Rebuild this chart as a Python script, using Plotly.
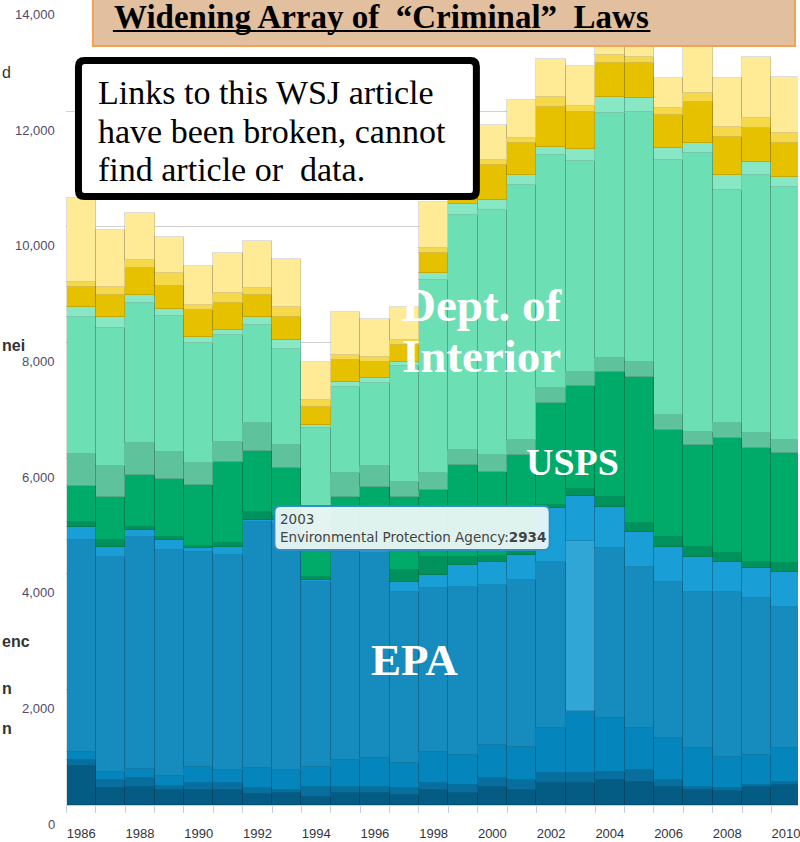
import plotly.graph_objects as go

years = list(range(1986, 2011))

# stacked series, bottom to top
blue_darkest = [674,294,311,259,259,259,190,207,138,207,207,173,259,207,311,259,380,380,432,398,311,259,242,311,346]
blue_dark = [104,138,156,69,121,121,104,52,173,104,104,121,121,138,156,173,173,173,138,207,121,52,52,35,52]
blue_medium = [138,138,156,173,277,225,346,346,346,467,501,432,536,519,571,571,778,1072,934,726,726,674,536,519,588]
epa = [3665,3717,4011,3908,3717,3717,4253,4253,3199,3596,3544,2957,2836,2905,2766,2887,2870,2934,2939,2784,2697,2697,2853,2715,2438]
blue_light = [225,173,121,173,69,138,35,69,35,69,86,173,225,380,398,432,934,778,709,605,605,605,519,519,605]
green_dark = [86,121,52,52,35,69,138,69,52,52,52,207,311,138,104,86,52,121,173,156,173,173,156,104,156]
usps = [622,743,899,1003,1055,1400,1055,830,726,830,1003,1262,1158,1591,1452,1643,1764,1781,2161,2524,1850,1764,1988,1971,1902]
green_medium = [553,536,553,467,380,346,484,398,346,415,363,259,294,259,294,259,259,242,242,259,259,225,259,259,225]
interior = [2369,2386,2421,2351,2075,1850,1694,1660,1504,1487,1435,2006,3337,4063,4236,4409,4029,3648,4236,4323,4409,4824,4029,4461,4374]
mint_light = [173,190,138,121,104,86,138,156,52,86,86,69,121,190,173,173,138,207,277,242,207,173,259,225,173]
gold = [346,380,467,398,467,467,380,398,311,380,277,294,346,415,605,553,692,640,588,605,571,709,657,588,588]
yellow_strip = [86,138,138,225,86,173,121,173,121,86,86,86,86,86,86,86,173,104,138,104,121,156,173,173,173]
yellow_light = [1452,986,813,622,674,692,813,830,657,743,657,571,795,432,605,657,657,692,346,329,519,830,847,1055,968]

series = [
    ("Other agency 1", blue_darkest, "#045c85"),
    ("Other agency 2", blue_dark, "#076e9d"),
    ("Other agency 3", blue_medium, "#0485bc"),
    ("Environmental Protection Agency", epa, "#168cbe"),
    ("Other agency 4", blue_light, "#1a9ed6"),
    ("Other agency 5", green_dark, "#00915c"),
    ("U.S. Postal Service", usps, "#00aa69"),
    ("Other agency 6", green_medium, "#5ec39c"),
    ("Department of the Interior", interior, "#6ddfb5"),
    ("Other agency 7", mint_light, "#88e8c5"),
    ("Other agency 8", gold, "#e5c100"),
    ("Other agency 9", yellow_strip, "#f6d94a"),
    ("Other agency 10", yellow_light, "#ffeb96"),
]

ytick_vals = [0, 2000, 4000, 6000, 8000, 10000, 12000, 14000]
ytick_text = ["0", "2,000", "4,000", "6,000", "8,000", "10,000", "12,000", "14,000"]
xtick_vals = [1986, 1988, 1990, 1992, 1994, 1996, 1998, 2000, 2002, 2004, 2006, 2008, 2010]
xtick_text = [str(v) for v in xtick_vals]

fig = go.Figure()
for name, vals, col in series:
    colors = [col] * len(years)
    if name == "Environmental Protection Agency":
        colors[years.index(2003)] = "#2fa6d6"
    fig.add_trace(go.Bar(
        x=years, y=vals, name=name,
        marker=dict(color=colors, line=dict(color="rgba(0,0,0,0.13)", width=1)),
    ))

W, H = 800, 842
L, R, T, B = 66, 0, 0, 37
YMAX = 13920
pw, ph = W - L - R, H - T - B

def px(x):
    return (x - L) / pw

def py(y):
    return (H - B - y) / ph

def rrect(x0, y0, x1, y1, r):
    pts = [
        ("M", (x0 + r, y0)), ("L", (x1 - r, y0)), ("Q", (x1, y0), (x1, y0 + r)),
        ("L", (x1, y1 - r)), ("Q", (x1, y1), (x1 - r, y1)), ("L", (x0 + r, y1)),
        ("Q", (x0, y1), (x0, y1 - r)), ("L", (x0, y0 + r)), ("Q", (x0, y0), (x0 + r, y0)),
    ]
    s = ""
    for p in pts:
        s += p[0] + " " + " ".join(f"{px(a):.5f},{py(b):.5f}" for a, b in p[1:]) + " "
    return s + "Z"

shapes = [
    # title box
    dict(type="rect", xref="paper", yref="paper", x0=px(93), x1=px(797), y0=py(46), y1=py(-4),
         fillcolor="#e2bf9e", line=dict(color="#f2a256", width=2)),
    dict(type="line", xref="paper", yref="paper", x0=px(113), x1=px(652), y0=py(31), y1=py(31),
         line=dict(color="black", width=2)),
    # note box
    dict(type="path", xref="paper", yref="paper", path=rrect(78.5, 60.5, 477.5, 196.5, 6),
         fillcolor="white", line=dict(color="black", width=7)),
    # tooltip
    dict(type="path", xref="paper", yref="paper", path=rrect(275, 506, 551, 550, 6),
         fillcolor="rgba(236,246,246,0.94)", line=dict(color="#2f8fc4", width=2)),
]

def txt(x, y, text, size, family="Liberation Serif", color="black", xanchor="left"):
    return dict(xref="paper", yref="paper", x=px(x), y=py(y), text=text, showarrow=False,
                xanchor=xanchor, yanchor="middle", align="left",
                font=dict(family=family, size=size, color=color))

annotations = []
for v, t in zip(ytick_vals, ytick_text):
    annotations.append(dict(xref="paper", yref="paper", x=px(57), y=v / YMAX, yshift=-19,
                            text=t, showarrow=False, xanchor="right", yanchor="middle",
                            font=dict(family="Liberation Sans", size=13, color="#4f4a6b")))

annotations += [
    txt(112, 17, "<b>Widening Array of  “Criminal”  Laws</b>", 33),
    txt(96, 93, "Links to this WSJ article", 34),
    txt(96, 131, "have been broken, cannot", 34),
    txt(96, 169, "find article or  data.", 34),
    txt(401, 305, "<b>Dept. of</b>", 47, color="white"),
    txt(401, 356, "<b>Interior</b>", 47, color="white"),
    txt(574, 462, "<b>USPS</b>", 38, color="white", xanchor="center"),
    txt(415, 660, "<b>EPA</b>", 45, color="white", xanchor="center"),
    txt(279, 519, "2003", 13.5, family="DejaVu Sans", color="#444444"),
    txt(279, 537, "Environmental Protection Agency:<b>2934</b>", 13.5, family="DejaVu Sans", color="#444444"),
    # fragments at the left edge
    txt(0, 72, "d", 16, family="Liberation Sans", color="#333333"),
    txt(0, 345, "<b>nei</b>", 16, family="Liberation Sans", color="#333333"),
    txt(0, 641, "<b>enc</b>", 16, family="Liberation Sans", color="#333333"),
    txt(0, 688, "<b>n</b>", 16, family="Liberation Sans", color="#333333"),
    txt(0, 728, "<b>n</b>", 16, family="Liberation Sans", color="#333333"),
]

x_lo = 1985.5 - 0.5 / 29.45
fig.update_layout(
    width=W, height=H,
    margin=dict(l=L, r=R, t=T, b=B),
    barmode="stack", bargap=0,
    showlegend=False,
    plot_bgcolor="white", paper_bgcolor="white",
    xaxis=dict(range=[x_lo, x_lo + pw / 29.45], tickvals=xtick_vals, ticktext=xtick_text,
               ticks="outside", ticklen=16, tickcolor="rgba(0,0,0,0)", ticklabeloverflow="allow",
               minor=dict(tick0=1986.5, dtick=1, ticks="outside", ticklen=7, tickcolor="#c3cfdc", showgrid=False),
               showline=True, linecolor="#c3cfdc", linewidth=1, showgrid=False, zeroline=False,
               tickfont=dict(family="Liberation Sans", size=13, color="#333340")),
    yaxis=dict(range=[0, YMAX], tickvals=ytick_vals[:-1], showticklabels=False, ticks="",
               gridcolor="#d2d2d2", gridwidth=1, zeroline=False, showline=False),
    shapes=shapes,
    annotations=annotations,
)

fig.write_html("out.html", config={"displayModeBar": False},
               post_script="document.body.style.margin='0px';")
